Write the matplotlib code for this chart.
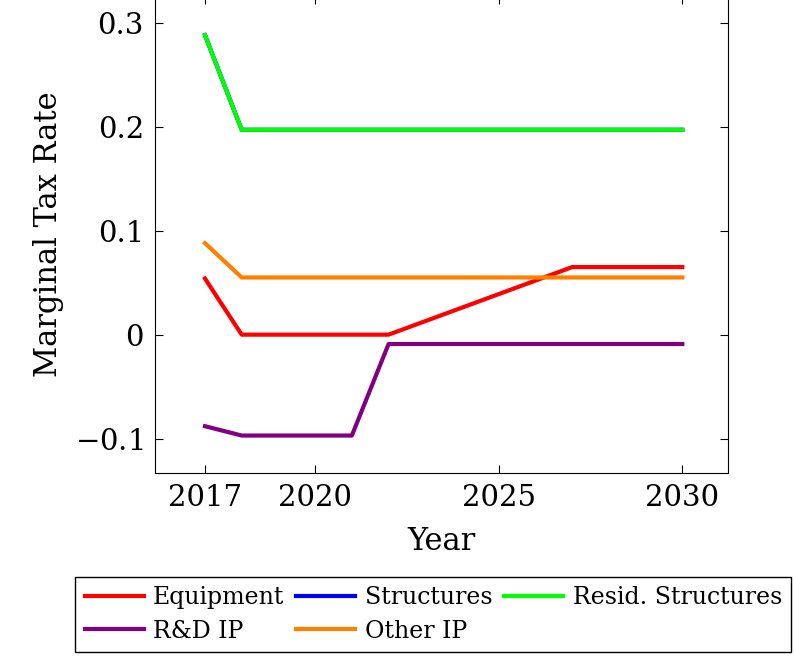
import matplotlib.pyplot as plt

years_eq = [2017, 2018, 2022, 2027, 2030]
equipment = [0.054, 0.0, 0.0, 0.065, 0.065]
years_st = [2017, 2018, 2030]
structures = [0.288, 0.197, 0.197]
resid = [0.288, 0.197, 0.197]
years_rd = [2017, 2018, 2021, 2022, 2030]
rd_ip = [-0.088, -0.097, -0.097, -0.009, -0.009]
years_ot = [2017, 2018, 2030]
other_ip = [0.088, 0.055, 0.055]

plt.rcParams['font.family'] = ['DejaVu Serif']
plt.rcParams['mathtext.fontset'] = 'dejavuserif'

fig = plt.figure(figsize=(7.95, 6.63), dpi=100)
ax = fig.add_axes([0.195, 0.2866, 0.721, 0.72])

h_eq, = ax.plot(years_eq, equipment, color='#ff0000', lw=3, label='Equipment')
h_st, = ax.plot(years_st, structures, color='#0000ff', lw=3, label='Structures')
h_rs, = ax.plot(years_st, resid, color='#00ff00', lw=3, label='Resid. Structures')
h_rd, = ax.plot(years_rd, rd_ip, color='#800080', lw=3, label='R&D IP')
h_ot, = ax.plot(years_ot, other_ip, color='#ff8000', lw=3, label='Other IP')

ax.set_xlim(2015.64, 2031.25)
ax.set_ylim(-0.133, 0.326)
ax.set_xticks([2017, 2020, 2025, 2030])
ax.set_yticks([-0.1, 0, 0.1, 0.2, 0.3])
ax.set_yticklabels(['$-0.1$', '0', '0.1', '0.2', '0.3'])
ax.tick_params(direction='in', top=True, right=True, labelsize=21, length=6, pad=8)
ax.set_xlabel('Year', fontsize=22, labelpad=10)
ax.set_ylabel('Marginal Tax Rate', fontsize=22, labelpad=8)

handles = [h_eq, h_rd, h_st, h_ot, h_rs]
fig.legend(handles, [h.get_label() for h in handles],
           loc='upper center', bbox_to_anchor=(0.545, 0.148), ncol=3, fontsize=17,
           frameon=True, fancybox=False, edgecolor='black', framealpha=1,
           handlelength=2.5, columnspacing=0.5, handletextpad=0.4,
           borderpad=0.4, labelspacing=0.45)

fig.savefig('out.png')
